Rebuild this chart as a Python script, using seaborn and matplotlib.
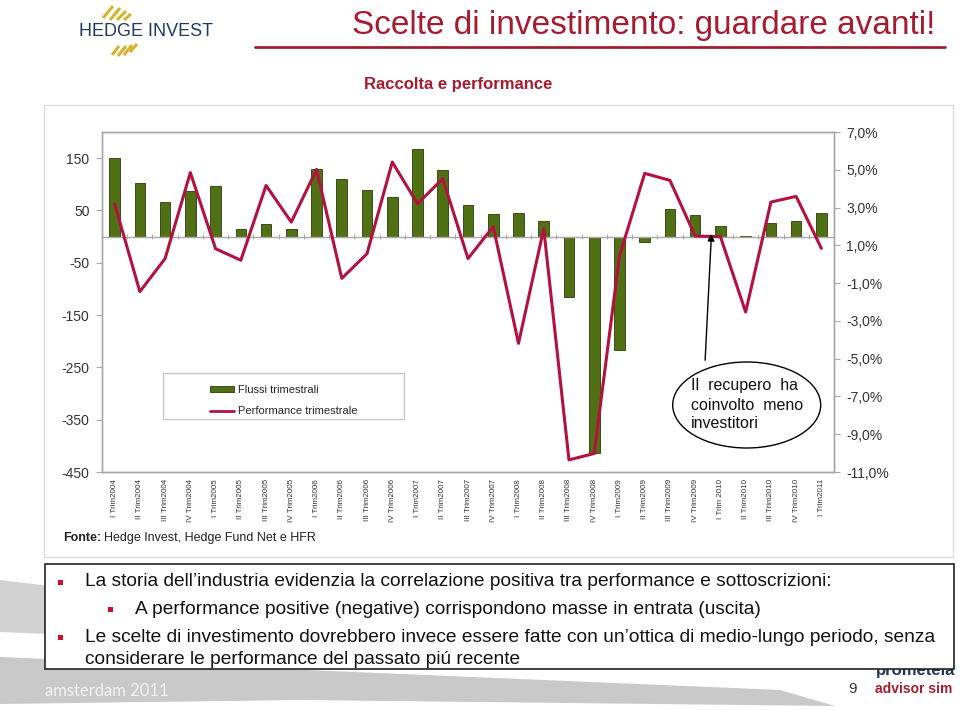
import matplotlib
matplotlib.use("Agg")
import numpy as np
import pandas as pd
import matplotlib.pyplot as plt
import seaborn as sns
from matplotlib.patches import Rectangle, Ellipse, Polygon
from matplotlib.lines import Line2D

# data
QUARTERS = [
    "I Trim2004", "II Trim2004", "III Trim2004", "IV Trim2004",
    "I Trim2005", "II Trim2005", "III Trim2005", "IV Trim2005",
    "I Trim2006", "II Trim2006", "III Trim2006", "IV Trim2006",
    "I Trim2007", "II Trim2007", "III Trim2007", "IV Trim2007",
    "I Trim2008", "II Trim2008", "III Trim2008", "IV Trim2008",
    "I Trim2009", "II Trim2009", "III Trim2009", "IV Trim2009",
    "I Trim 2010", "II Trim2010", "III Trim2010", "IV Trim2010",
    "I Trim2011",
]
FLUSSI = [150, 103, 67, 88, 97, 14, 25, 14, 130, 111, 90, 76, 167, 127, 61,
          43, 46, 29, -115, -413, -216, -10, 52, 41, 20, 2, 26, 30, 46]
PERFORMANCE = [3.2, -1.45, 0.3, 4.85, 0.82, 0.21, 4.17, 2.23, 5.02, -0.75,
               0.56, 5.41, 3.2, 4.53, 0.3, 1.99, -4.19, 1.88, -10.36, -10.02,
               0.43, 4.81, 4.44, 1.49, 1.46, -2.53, 3.29, 3.59, 0.84]
LEFT_TICKS = [150, 50, -50, -150, -250, -350, -450]
RIGHT_TICKS = [7, 5, 3, 1, -1, -3, -5, -7, -9, -11]

BULLETS = [
    (0, "La storia dell\u2019industria evidenzia la correlazione positiva tra performance e sottoscrizioni:"),
    (1, "A performance positive (negative) corrispondono masse in entrata (uscita)"),
    (0, "Le scelte di investimento dovrebbero invece essere fatte con un\u2019ottica di medio-lungo periodo, senza"),
    (None, "considerare le performance del passato pi\u00fa recente"),
]

GREEN = "#4f7114"
RED = "#b3123f"
DARKRED = "#a51c30"
GRAY = "#a8a8a8"

W, H = 960, 710


def fx(x):
    return x / W


def fy(y):
    return 1 - y / H


sns.set_theme(style="white")
plt.rcParams["font.family"] = ["Liberation Sans", "DejaVu Sans"]

df = pd.DataFrame({"trimestre": QUARTERS, "flussi": FLUSSI, "performance": PERFORMANCE})
df["pos"] = np.arange(len(df))

fig = plt.figure(figsize=(9.6, 7.1), dpi=100)

# background swoosh
fig.add_artist(Polygon([(fx(0), fy(580)), (fx(50), fy(586)), (fx(50), fy(634)), (fx(0), fy(632))],
                       closed=True, transform=fig.transFigure, facecolor="#d2d2d2", edgecolor="none", zorder=-2))
fig.add_artist(Polygon([(fx(0), fy(657)), (fx(780), fy(690)), (fx(835), fy(706)),
                        (fx(300), fy(700)), (fx(0), fy(704))],
                       closed=True, transform=fig.transFigure, facecolor="#c9c9c9", edgecolor="none", zorder=-2))

# chart frame
fig.add_artist(Rectangle((fx(44), fy(557)), fx(953) - fx(44), fy(105) - fy(557),
                         transform=fig.transFigure, facecolor="white", edgecolor="#dcdcdc", lw=1, zorder=-1))

ax = fig.add_axes([fx(102), fy(472), fx(834) - fx(102), fy(132) - fy(472)])
sns.barplot(data=df, x="trimestre", y="flussi", ax=ax, color=GREEN, width=0.42,
            edgecolor="#2c3a0c", linewidth=0.6, saturation=1)
ax.axhline(0, color=GRAY, lw=1, zorder=1)
ax.vlines(df["pos"][:-1] + 0.5, -5, 5, color=GRAY, lw=0.8, zorder=1)
ax.set_xlim(-0.5, len(df) - 0.5)
ax.set_ylim(-450, 200)
ax.set_yticks(LEFT_TICKS)
ax.set_yticklabels([str(v) for v in LEFT_TICKS])
ax.set_xlabel("")
ax.set_ylabel("")
ax.set_xticks(df["pos"])
ax.set_xticklabels(QUARTERS, rotation=90, va="top", ha="center",
                   fontsize=5.8, family=["Liberation Sans Narrow", "Liberation Sans"], color="#333333")
ax.tick_params(axis="x", length=0, pad=5)
ax.tick_params(axis="y", length=4, width=0.8, color=GRAY, labelsize=10, labelcolor="#333333", pad=5, left=True)
for s in ax.spines.values():
    s.set_color(GRAY)
    s.set_linewidth(1)

ax2 = ax.twinx()
sns.lineplot(data=df, x="pos", y="performance", ax=ax2, color=RED, lw=2.2)
ax2.set_ylim(-11, 7)
ax2.set_yticks(RIGHT_TICKS)
ax2.set_yticklabels([f"{v},0%" for v in RIGHT_TICKS])
ax2.set_ylabel("")
ax2.tick_params(axis="y", length=4, width=0.8, color=GRAY, labelsize=10, labelcolor="#333333", pad=5, right=True)
for s in ax2.spines.values():
    s.set_color(GRAY)
    s.set_linewidth(1)

# legend
ax.add_patch(Rectangle((fx(163), fy(419)), fx(404) - fx(163), fy(373) - fy(419),
                       transform=fig.transFigure, facecolor="white", edgecolor="#c8c8c8", lw=1, zorder=3))
handles = [Rectangle((0, 0), 1, 1, facecolor=GREEN, edgecolor="#2c3a0c", lw=0.6),
           Line2D([0], [0], color=RED, lw=2)]
leg = ax2.legend(handles, ["Flussi trimestrali", "Performance trimestrale"],
                 loc="upper left", bbox_to_anchor=(fx(200), fy(375)), bbox_transform=fig.transFigure,
                 frameon=False, fontsize=8, handlelength=2.2, handleheight=0.5,
                 handletextpad=0.3, labelspacing=1.0)

# annotation
ax2.annotate("", xy=(23.65, 1.75), xycoords="data", xytext=(fx(705), fy(363)),
             textcoords="figure fraction",
             arrowprops=dict(arrowstyle="-|>", color="black", lw=1, mutation_scale=10))
fig.add_artist(Ellipse((fx(746.7), fy(405)), fx(148), 86 / H, transform=fig.transFigure,
                       facecolor="white", edgecolor="black", lw=1, zorder=5))
for y, t in [(385, "Il  recupero  ha"), (405, "coinvolto  meno"), (424, "investitori")]:
    fig.text(fx(691), fy(y), t, fontsize=11.5, va="center", ha="left", color="#111111", zorder=6)

# titles
fig.text(fx(352), fy(34), "Scelte di investimento: guardare avanti!", fontsize=24,
         color=DARKRED, va="baseline", ha="left")
fig.add_artist(Line2D([fx(255), fx(945)], [fy(47), fy(47)], color=DARKRED, lw=2, transform=fig.transFigure))
fig.text(fx(458), fy(84), "Raccolta e performance", fontsize=12, fontweight="bold",
         color=DARKRED, va="center", ha="center")

# logo
fig.text(fx(146), fy(31), "HEDGE INVEST", fontsize=13, color="#1f3a60", va="center", ha="center")
for x0, y0, x1, y1 in [(103, 18, 113, 6), (110, 20, 120, 8), (117, 20, 126, 11), (124, 20, 131, 14),
                       (112, 55, 119, 46), (118, 56, 126, 46), (124, 55, 132, 45), (130, 52, 137, 44)]:
    fig.add_artist(Line2D([fx(x0), fx(x1)], [fy(y0), fy(y1)], color="#d6b32a", lw=2.2,
                          transform=fig.transFigure, solid_capstyle="butt"))

# source
fig.text(fx(63), fy(538), "Fonte:", fontsize=9, fontweight="bold", color="#222222", va="center")
fig.text(fx(104), fy(538), "Hedge Invest, Hedge Fund Net e HFR", fontsize=9, color="#222222", va="center")

# text box
fig.add_artist(Rectangle((fx(45), fy(669)), fx(954) - fx(45), fy(564) - fy(669),
                         transform=fig.transFigure, facecolor="white", edgecolor="#222222", lw=1.2, zorder=2))
for (level, text), y in zip(BULLETS, [582, 609, 637, 660]):
    xt = 85 if level in (0, None) else 135
    if level is not None:
        xb = 60 if level == 0 else 110
        fig.add_artist(Rectangle((fx(xb - 2.5), fy(y + 3)), fx(5), 5 / H, transform=fig.transFigure,
                                 facecolor="#c8102e", edgecolor="none", zorder=3))
    fig.text(fx(xt), fy(y), text, fontsize=13.8, color="#111111", va="center", ha="left", zorder=3)

# footer
fig.text(fx(45), fy(691), "amsterdam 2011", fontsize=12, color="#f2f2f2", va="center",
         family=["Lato", "DejaVu Sans"])
fig.text(fx(848), fy(689), "9", fontsize=11, color="#333333", va="center")
fig.text(fx(876), fy(671), "prometeia", fontsize=12, fontweight="bold", color="#1f3a60", va="center", zorder=1)
fig.text(fx(875), fy(689), "advisor sim", fontsize=10, fontweight="bold", color=DARKRED, va="center")

fig.savefig("out.png", dpi=100)
